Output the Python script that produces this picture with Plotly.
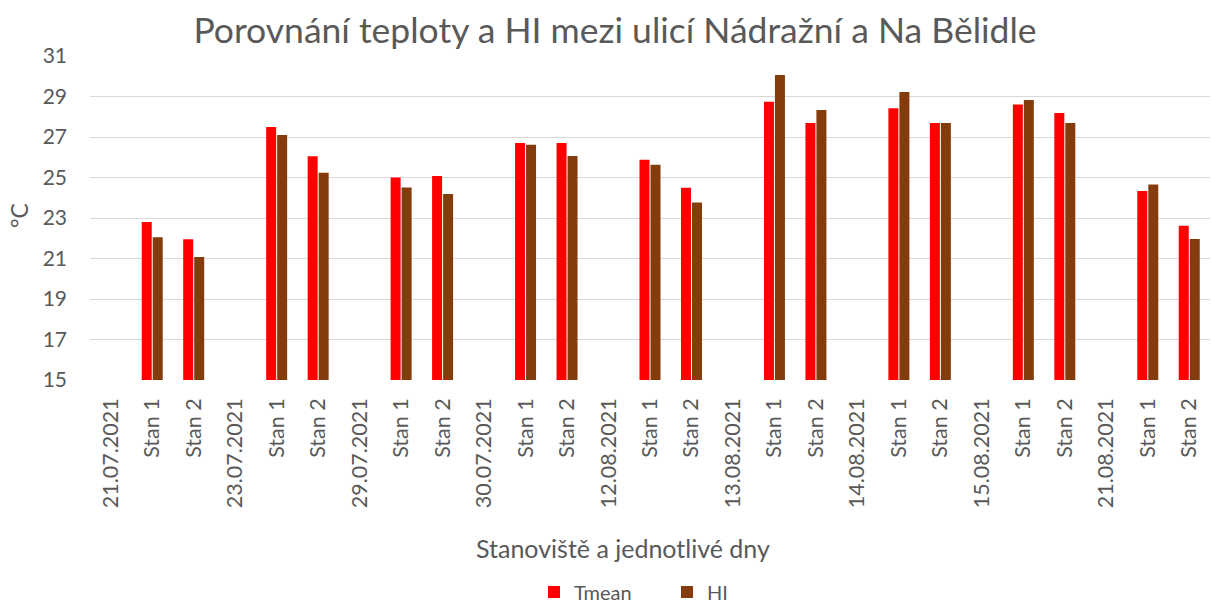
import plotly.graph_objects as go

categories = ["21.07.2021", "Stan 1", "Stan 2", "23.07.2021", "Stan 1", "Stan 2",
              "29.07.2021", "Stan 1", "Stan 2", "30.07.2021", "Stan 1", "Stan 2",
              "12.08.2021", "Stan 1", "Stan 2", "13.08.2021", "Stan 1", "Stan 2",
              "14.08.2021", "Stan 1", "Stan 2", "15.08.2021", "Stan 1", "Stan 2",
              "21.08.2021", "Stan 1", "Stan 2"]

tmean = [None, 22.8, 21.95, None, 27.5, 26.05, None, 25.0, 25.07, None, 26.7, 26.7,
         None, 25.88, 24.5, None, 28.74, 27.69, None, 28.42, 27.69, None, 28.6, 28.19,
         None, 24.33, 22.62]
hi = [None, 22.05, 21.07, None, 27.1, 25.24, None, 24.51, 24.19, None, 26.62, 26.06,
      None, 25.63, 23.76, None, 30.06, 28.33, None, 29.22, 27.69, None, 28.83, 27.69,
      None, 24.66, 21.96]

y_ticks = [15, 17, 19, 21, 23, 25, 27, 29, 31]

x = list(range(len(categories)))
FONT = "Lato"
GRAY = "#595959"

# plot area geometry (pixels)
L, R, T, B = 90, 1, 56, 225
PW = 1211 - L - R
PH = 605 - T - B

fig = go.Figure()
fig.add_trace(go.Bar(x=x, y=tmean, name="Tmean", marker=dict(color="#FF0000", line=dict(width=0))))
fig.add_trace(go.Bar(x=x, y=hi, name="HI", marker=dict(color="#843C0C", line=dict(width=0))))

fig.update_layout(
    width=1211, height=605,
    margin=dict(l=L, r=R, t=T, b=B, autoexpand=False),
    paper_bgcolor="white", plot_bgcolor="white",
    barmode="group", bargap=0.47, bargroupgap=0.09,
    font=dict(family=FONT, color=GRAY),
    title=dict(text="Porovnání teploty a HI mezi ulicí Nádražní a Na Bělidle",
               x=615 / 1211, xanchor="center", y=1 - 31 / 605, yanchor="middle",
               font=dict(size=35.5, color=GRAY, family=FONT)),
    legend=dict(orientation="h", x=(667 - L) / PW, xanchor="center", yref="container",
                y=(605 - 592) / 605, yanchor="middle", entrywidth=88, entrywidthmode="pixels",
                font=dict(size=20, color=GRAY, family=FONT)),
    xaxis=dict(tickmode="array", tickvals=x, ticktext=categories, tickangle=-90,
               range=[-0.5, len(categories) - 0.5], showgrid=False, zeroline=False,
               showline=False, ticks="", ticklabelstandoff=13, automargin=False,
               tickfont=dict(size=21.5, color=GRAY)),
    yaxis=dict(range=[15, 31], tickvals=y_ticks, showgrid=True, gridcolor="#D9D9D9",
               gridwidth=1.3, zeroline=False, showline=False, ticks="", automargin=False,
               tickfont=dict(size=21, color=GRAY), ticklabelstandoff=22),
)
fig.add_annotation(text="°C", xref="paper", yref="paper",
                   x=(19 - L) / PW, y=(T + PH - 216) / PH, xanchor="center", yanchor="middle",
                   textangle=-90, showarrow=False, font=dict(size=23, color=GRAY, family=FONT))
fig.add_annotation(text="Stanoviště a jednotlivé dny", xref="paper", yref="paper",
                   x=(623 - L) / PW, y=-(548 - (T + PH)) / PH, xanchor="center", yanchor="middle",
                   showarrow=False, font=dict(size=25, color=GRAY, family=FONT))

fig.write_html("out.html", post_script="document.body.style.margin='0px';",
               config={"displayModeBar": False})
